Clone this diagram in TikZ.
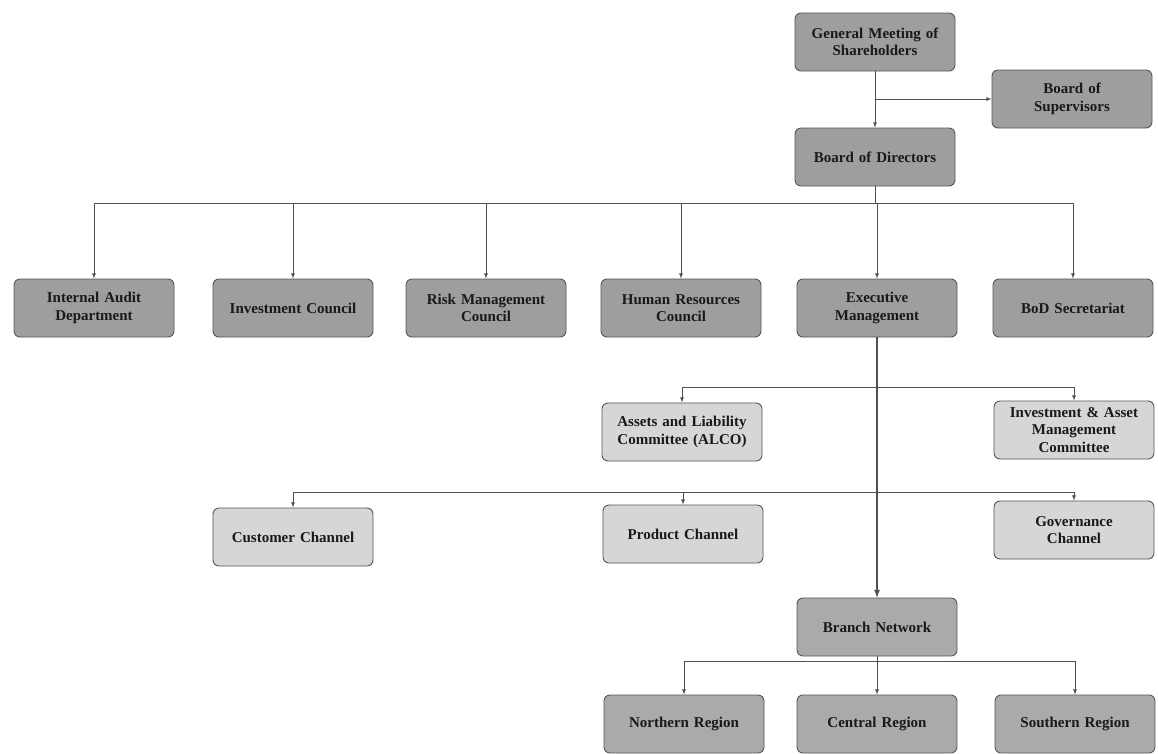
\documentclass[tikz,border=0pt]{standalone}
\usepackage{fontspec}
\setmainfont{Liberation Serif}

\definecolor{darkfill}{RGB}{158,158,161}
\definecolor{midfill}{RGB}{170,170,173}
\definecolor{lightfill}{RGB}{214,214,217}
\definecolor{edgegray}{RGB}{85,85,88}
\definecolor{wiregray}{RGB}{80,80,80}

\tikzset{
	unit/.style={draw=edgegray, line width=0.9pt, rounded corners=6pt,
		minimum width=160pt, minimum height=58pt, text width=154pt,
		align=center, inner sep=1pt, text=black!90,
		font=\fontsize{15}{17.5}\selectfont\bfseries},
	darkunit/.style={unit, fill=darkfill},
	midunit/.style={unit, fill=midfill},
	lightunit/.style={unit, fill=lightfill},
	wire/.style={draw=wiregray, line width=0.8pt}
}

\begin{document}
\begin{tikzpicture}[x=1pt,y=-1pt]
	\useasboundingbox (0,0) rectangle (1158,753);

	% top of the chart
	\node[darkunit] (gms) at (875,42) {General Meeting of\\Shareholders};
	\node[darkunit] (bos) at (1072,99) {Board of\\Supervisors};
	\node[darkunit] (bod) at (875,157) {Board of Directors};

	% units under the board
	\node[darkunit] (iad) at (94,308) {Internal Audit\\Department};
	\node[darkunit] (ic) at (293,308) {Investment Council};
	\node[darkunit] (rmc) at (486,308) {Risk Management\\Council};
	\node[darkunit] (hrc) at (681,308) {Human Resources\\Council};
	\node[darkunit] (em) at (877,308) {Executive\\Management};
	\node[darkunit] (bds) at (1073,308) {BoD Secretariat};

	% committees and channels
	\node[lightunit] (alco) at (682,432) {Assets and Liability\\Committee (ALCO)};
	\node[lightunit] (iamc) at (1074,430) {Investment \& Asset\\Management\\Committee};
	\node[lightunit] (cust) at (293,537) {Customer Channel};
	\node[lightunit] (prod) at (683,534) {Product Channel};
	\node[lightunit] (gov) at (1074,530) {Governance\\Channel};

	% branches
	\node[midunit] (bn) at (877,627) {Branch Network};
	\node[midunit] (north) at (684,724) {Northern Region};
	\node[midunit] (cent) at (877,724) {Central Region};
	\node[midunit] (south) at (1075,724) {Southern Region};

	\coordinate (j0) at (875,99);
	\coordinate (j1) at (875,203);
	\coordinate (j2) at (877,387);
	\coordinate (j3) at (877,492);
	\coordinate (j4) at (877,661);

	\draw[wire,-latex] (gms) -- (bod);
	\draw[wire,-latex] (j0) -- (bos);

	\draw[wire] (bod) -- (j1);
	\draw[wire,-latex] (j1) -| (iad);
	\draw[wire,-latex] (j1) -| (ic);
	\draw[wire,-latex] (j1) -| (rmc);
	\draw[wire,-latex] (j1) -| (hrc);
	\draw[wire,-latex] (j1) -| (em);
	\draw[wire,-latex] (j1) -| (bds);

	\draw[wire,line width=1.6pt,-latex] (em) -- (bn);
	\draw[wire,-latex] (j2) -| (alco);
	\draw[wire,-latex] (j2) -| (iamc);
	\draw[wire,-latex] (j3) -| (cust);
	\draw[wire,-latex] (j3) -| (prod);
	\draw[wire,-latex] (j3) -| (gov);

	\draw[wire,-latex] (j4) -| (north);
	\draw[wire,-latex] (bn) -- (cent);
	\draw[wire,-latex] (j4) -| (south);
\end{tikzpicture}
\end{document}
